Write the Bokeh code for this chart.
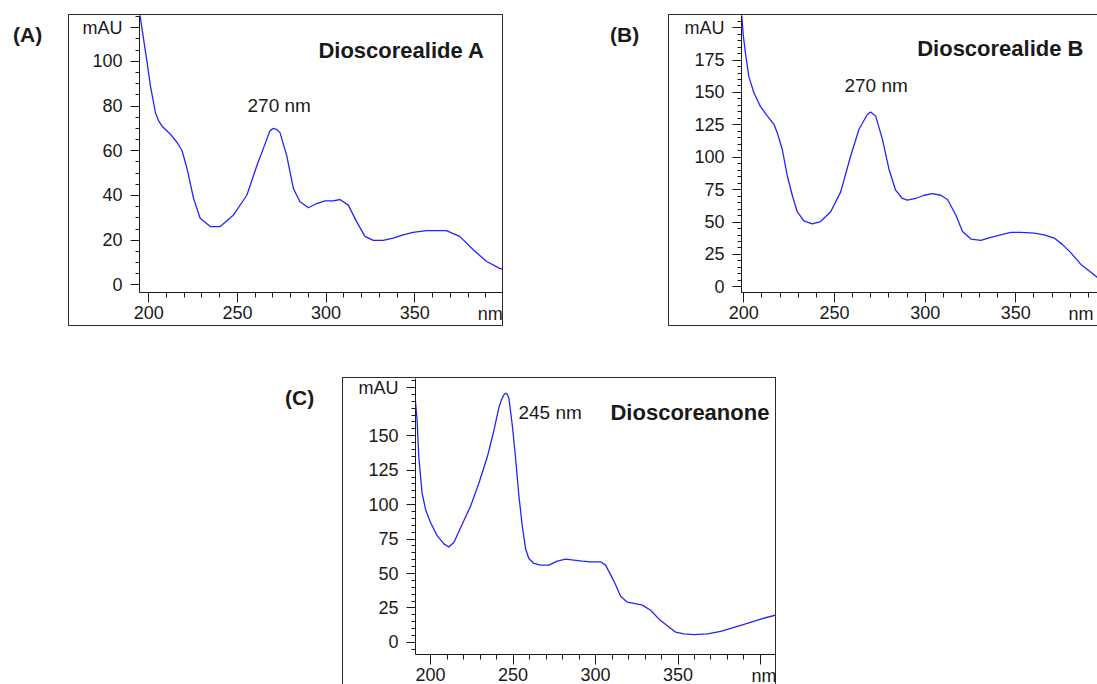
from bokeh.plotting import figure
from bokeh.models import Range1d, FixedTicker, Label, Div, Spacer, LinearAxis
from bokeh.layouts import row, column
from bokeh.embed import file_html
from bokeh.resources import INLINE

# ---------------- data ----------------
panel_letters = ["(A)", "(B)", "(C)"]
compound_names = ["Dioscorealide A", "Dioscorealide B", "Dioscoreanone"]
peak_labels = ["270 nm", "270 nm", "245 nm"]

wl_a = [195.0, 197.2, 199.0, 201.0, 203.8, 205.5, 207.5, 212.2, 216.0, 218.8, 221.6, 225.3, 229.0,
        234.7, 240.3, 247.8, 255.3, 261.0, 266.6, 268.3, 270.0, 272.0, 274.0, 277.8, 281.6,
        285.3, 290.0, 294.7, 299.4, 304.0, 307.8, 312.5, 317.2, 321.9, 326.6, 332.2, 337.8,
        343.4, 349.0, 356.6, 367.8, 375.3, 382.8, 390.3, 397.8, 400.0]
abs_a = [121.0, 109.4, 100.0, 88.8, 77.0, 73.5, 71.0, 67.4, 63.7, 60.0, 52.0, 38.6, 29.8,
         26.1, 26.1, 31.3, 40.1, 53.4, 65.2, 68.8, 70.0, 69.6, 68.1, 57.8, 43.0,
         37.2, 34.5, 36.4, 37.6, 37.6, 38.2, 35.7, 28.3, 21.7, 19.9, 19.9, 20.9,
         22.4, 23.5, 24.3, 24.3, 21.7, 15.8, 10.6, 7.4, 6.9]

wl_b = [198.7, 199.6, 200.9, 202.8, 205.5, 209.2, 212.9, 216.6, 218.4, 221.2, 223.9, 226.7,
        229.4, 233.1, 237.7, 242.3, 247.9, 253.4, 258.9, 263.5, 268.1, 269.9, 272.7, 276.4,
        280.0, 283.7, 287.4, 290.2, 294.8, 299.4, 304.0, 308.6, 312.3, 316.9, 320.6, 325.2,
        330.7, 336.2, 341.7, 347.2, 352.8, 360.1, 365.6, 371.2, 375.8, 380.4, 385.9, 390.5,
        395.1, 400.0]
abs_b = [212.0, 195.0, 180.0, 162.0, 150.0, 139.0, 132.0, 125.4, 119.0, 106.0, 86.0, 70.7,
         58.0, 50.9, 48.6, 50.4, 58.0, 73.3, 101.0, 121.6, 133.0, 134.9, 131.8, 114.0,
         91.0, 74.6, 68.2, 66.9, 68.2, 70.7, 72.0, 70.7, 67.4, 55.5, 42.7, 36.9,
         35.9, 38.2, 40.2, 42.0, 42.0, 41.5, 40.2, 37.7, 32.6, 26.2, 17.3, 12.2,
         7.1, 4.5]

wl_c = [190.9, 191.9, 192.9, 194.9, 197.0, 200.0, 204.0, 208.1, 211.1, 214.2, 219.2, 224.3,
        229.3, 234.4, 238.4, 241.4, 243.0, 244.5, 245.5, 246.5, 247.5, 249.5, 251.5, 253.6,
        255.6, 257.6, 259.6, 262.7, 266.7, 271.8, 276.8, 281.9, 286.9, 292.0, 297.0, 303.1,
        306.1, 309.2, 312.2, 315.2, 319.3, 323.3, 328.4, 333.4, 338.5, 343.5, 348.6, 353.6,
        359.7, 367.8, 375.9, 384.0, 392.0, 400.1, 409.7]
abs_c = [175.0, 160.7, 134.5, 108.4, 96.5, 87.0, 77.5, 71.5, 69.2, 72.7, 85.8, 98.9,
         115.5, 134.5, 153.6, 170.2, 176.0, 179.7, 180.9, 180.0, 177.3, 158.3, 134.5, 106.0,
         84.6, 68.0, 60.9, 57.3, 56.1, 56.1, 59.0, 60.4, 59.7, 59.0, 58.5, 58.5,
         56.1, 49.0, 41.8, 33.5, 29.2, 28.3, 27.1, 23.3, 16.9, 12.1, 7.4, 6.2,
         5.7, 6.2, 8.1, 10.9, 13.8, 16.9, 20.0]

x_major_a = [200, 250, 300, 350, 400]
x_major_b = [200, 250, 300, 350, 400]
x_major_c = [200, 250, 300, 350, 400, 410]
y_major_a = [0, 20, 40, 60, 80, 100, 115]
y_major_b = [0, 25, 50, 75, 100, 125, 150, 175, 200]
y_major_c = [0, 25, 50, 75, 100, 125, 150, 185]
y_unit_tick = [115, 200, 185]        # tick that carries the "mAU" label
x_unit_pos = [392.5, 386.0, 402.1]   # centre of the "nm" label

FONT = "Liberation Sans"
INK = "#1a1a1a"
BOX = "#2b2b2b"
BLUE = "#2323ff"


def make_panel(wl, ab, width, height, mb_left, mb_bottom, xr, yr,
               xmaj, xblank, ymaj, yunit, ymin_start, nm_pos):
    p = figure(width=width, height=height, x_range=Range1d(*xr), y_range=Range1d(*yr),
               output_backend="svg", toolbar_location=None,
               min_border_left=mb_left, min_border_right=0, min_border_top=1,
               min_border_bottom=mb_bottom,
               background_fill_color=None, border_fill_color=None,
               outline_line_color=None,
               styles={"outline": "1px solid " + BOX, "outline-offset": "-1px"})
    p.xgrid.visible = False
    p.ygrid.visible = False

    xa = p.xaxis[0]
    xa.ticker = FixedTicker(ticks=xmaj, minor_ticks=list(range(190, 420, 10)))
    xa.major_label_overrides = {v: "" for v in xblank}
    xa.major_tick_out = 10
    xa.major_tick_in = 0
    xa.minor_tick_out = 5
    xa.minor_tick_in = 0
    xa.major_label_standoff = 3

    ya = p.yaxis[0]
    ya.ticker = FixedTicker(ticks=ymaj, minor_ticks=list(range(ymin_start, 215, 5)))
    ya.major_label_overrides = {yunit: "mAU"}
    ya.major_tick_out = 9
    ya.major_tick_in = 0
    ya.minor_tick_out = 4
    ya.minor_tick_in = 0
    ya.major_label_standoff = 8

    # second, line-less axis below that only carries the "nm" unit label,
    # pulled up into the row of the tick labels
    na = LinearAxis(ticker=FixedTicker(ticks=[nm_pos]),
                    major_label_overrides={nm_pos: "nm"},
                    axis_line_color=None, major_tick_line_color=None,
                    minor_tick_line_color=None, major_tick_out=0, major_tick_in=0,
                    minor_tick_out=0, minor_tick_in=0, major_label_standoff=-18)
    p.add_layout(na, "below")

    for ax in (xa, ya, na):
        ax.major_label_text_font = FONT
        ax.major_label_text_font_size = "18px"
        ax.major_label_text_color = INK
    for ax in (xa, ya):
        ax.axis_line_color = INK
        ax.major_tick_line_color = INK
        ax.minor_tick_line_color = INK

    p.line(wl, ab, line_color=BLUE, line_width=1.3, line_join="round")
    return p


def add_text(p, x, y, text, size, bold=False, align="left", baseline="middle"):
    p.add_layout(Label(x=x, y=y, text=text, text_font=FONT, text_font_size=size,
                       text_font_style="bold" if bold else "normal",
                       text_color=INK, text_align=align, text_baseline=baseline))


# Panel A
pa = make_panel(wl_a, abs_a, 435, 312, 71, 31, (194.8, 400.0), (-3.4, 120.5),
                x_major_a, [400], y_major_a, y_unit_tick[0], 0, x_unit_pos[0])
add_text(pa, 389.4, 105.0, compound_names[0], "22px", bold=True, align="right")
add_text(pa, 255.7, 80.2, peak_labels[0], "19px")

# Panel B
pb = make_panel(wl_b, abs_b, 438, 312, 73, 31, (198.7, 400.0), (-4.35, 209.4),
                x_major_b, [400], y_major_b, y_unit_tick[1], 0, x_unit_pos[1])
add_text(pb, 387.3, 184.0, compound_names[1], "22px", bold=True, align="right")
add_text(pb, 255.5, 155.3, peak_labels[1], "19px")

# Panel C
pc = make_panel(wl_c, abs_c, 434, 311, 73, 31, (190.9, 409.7), (-8.76, 191.5),
                x_major_c, [400, 410], y_major_c, y_unit_tick[2], -5, x_unit_pos[2])
add_text(pc, 405.4, 167.1, compound_names[2], "22px", bold=True, align="right")
add_text(pc, 253.3, 167.1, peak_labels[2], "19px")


def letter_div(text, width, height, pad_left, pad_top):
    html = ('<div style="font-family:\'Liberation Sans\',Arial,sans-serif;font-weight:bold;'
            'font-size:21px;line-height:24px;color:%s;padding-left:%dpx;padding-top:%dpx;">%s</div>'
            % (INK, pad_left, pad_top, text))
    return Div(text=html, width=width, height=height, margin=0)


row1 = row(letter_div(panel_letters[0], 68, 60, 13, 9), pa,
           Spacer(width=97, height=10),
           letter_div(panel_letters[1], 68, 60, 10, 9), pb,
           styles={"max-width": "1097px", "overflow": "hidden"})
row2 = row(Spacer(width=280, height=10), letter_div(panel_letters[2], 62, 60, 5, 9), pc,
           styles={"max-height": "307px", "overflow": "hidden"})

root = column(Spacer(width=10, height=14), row1, Spacer(width=10, height=51), row2)

open("out.html", "w").write(file_html(root, INLINE))
